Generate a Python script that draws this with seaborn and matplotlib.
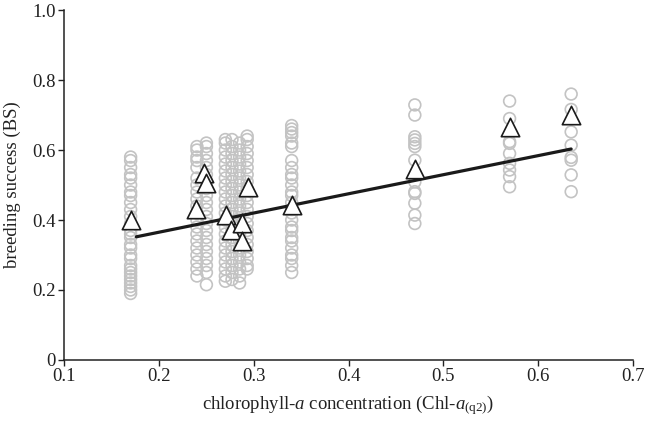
import matplotlib
matplotlib.use("Agg")
import matplotlib.pyplot as plt
import seaborn as sns
import pandas as pd

# ---- data ----
col_x = [0.17, 0.24, 0.25, 0.27, 0.277, 0.285, 0.293, 0.34, 0.47, 0.57, 0.635]
col_values = [
    [0.58, 0.57, 0.55, 0.53, 0.52, 0.50, 0.48, 0.47, 0.45, 0.43, 0.41, 0.39, 0.37, 0.36,
     0.35, 0.33, 0.32, 0.30, 0.29, 0.27, 0.26, 0.25, 0.24, 0.23, 0.22, 0.21, 0.20, 0.19],
    [0.61, 0.60, 0.58, 0.57, 0.55, 0.52, 0.50, 0.48, 0.46, 0.44, 0.42, 0.40, 0.38, 0.36,
     0.34, 0.32, 0.30, 0.28, 0.26, 0.24],
    [0.62, 0.61, 0.59, 0.57, 0.55, 0.53, 0.51, 0.49, 0.47, 0.45, 0.43, 0.41, 0.39, 0.37,
     0.35, 0.33, 0.31, 0.29, 0.27, 0.25, 0.215],
    [0.63, 0.62, 0.60, 0.58, 0.56, 0.54, 0.52, 0.50, 0.48, 0.46, 0.44, 0.42, 0.40, 0.38,
     0.36, 0.34, 0.32, 0.30, 0.28, 0.26, 0.24, 0.225],
    [0.63, 0.61, 0.59, 0.57, 0.55, 0.53, 0.51, 0.49, 0.47, 0.45, 0.43, 0.41, 0.39, 0.37,
     0.35, 0.33, 0.31, 0.29, 0.27, 0.25, 0.23],
    [0.62, 0.60, 0.58, 0.56, 0.54, 0.52, 0.50, 0.48, 0.46, 0.44, 0.42, 0.40, 0.38, 0.36,
     0.34, 0.32, 0.30, 0.28, 0.26, 0.24, 0.22],
    [0.64, 0.63, 0.61, 0.59, 0.57, 0.55, 0.53, 0.51, 0.49, 0.47, 0.45, 0.43, 0.41, 0.39,
     0.37, 0.35, 0.33, 0.31, 0.29, 0.27, 0.26],
    [0.67, 0.66, 0.65, 0.64, 0.62, 0.61, 0.57, 0.55, 0.53, 0.52, 0.50, 0.48, 0.47, 0.45,
     0.43, 0.42, 0.40, 0.38, 0.37, 0.35, 0.34, 0.32, 0.30, 0.29, 0.27, 0.25],
    [0.729, 0.70, 0.638, 0.629, 0.619, 0.61, 0.571, 0.509, 0.481, 0.476, 0.448, 0.414, 0.39],
    [0.74, 0.69, 0.624, 0.619, 0.59, 0.562, 0.543, 0.524, 0.495],
    [0.76, 0.716, 0.652, 0.614, 0.579, 0.571, 0.529, 0.481],
]

tri_x = [0.17, 0.239, 0.247, 0.25, 0.271, 0.276, 0.288, 0.288, 0.294, 0.34, 0.47, 0.57, 0.635]
tri_y = [0.40, 0.431, 0.533, 0.505, 0.414, 0.371, 0.392, 0.340, 0.495, 0.443, 0.545, 0.665, 0.70]

line_x = [0.176, 0.40, 0.635]
line_y = [0.352, 0.475, 0.603]

xticks = [0.1, 0.2, 0.3, 0.4, 0.5, 0.6, 0.7]
xticklabels = ["0.1", "0.2", "0.3", "0.4", "0.5", "0.6", "0.7"]
yticks = [0, 0.2, 0.4, 0.6, 0.8, 1.0]
yticklabels = ["0", "0.2", "0.4", "0.6", "0.8", "1.0"]

# ---- build tables ----
rows = []
for cx, vals in zip(col_x, col_values):
    for v in vals:
        rows.append({"x": cx, "y": v})
df_pts = pd.DataFrame(rows)
df_tri = pd.DataFrame({"x": tri_x, "y": tri_y})
df_line = pd.DataFrame({"x": line_x, "y": line_y})

sns.set_style("ticks")
plt.rcParams["font.family"] = ["Liberation Serif", "DejaVu Serif"]
plt.rcParams["mathtext.fontset"] = "custom"
plt.rcParams["mathtext.rm"] = "Liberation Serif"
plt.rcParams["mathtext.it"] = "Liberation Serif:italic"

fig = plt.figure(figsize=(6.45, 4.21), dpi=100)
ax = fig.add_axes([0.0997, 0.145, 0.8813, 0.831])

sns.scatterplot(data=df_pts, x="x", y="y", ax=ax, marker="o", s=72,
                facecolors="none", edgecolor="#c3c3c3", linewidth=1.2, zorder=2)
sns.lineplot(data=df_line, x="x", y="y", ax=ax, color="#1a1a1a", linewidth=2.3,
             zorder=3, estimator=None, sort=False)
sns.scatterplot(data=df_tri, x="x", y="y", ax=ax, marker="^", s=175,
                color="white", edgecolor="#1a1a1a", linewidth=1.2, zorder=4)

ax.set_xlim(0.1, 0.7)
ax.set_ylim(0, 1.0)
ax.set_xticks(xticks)
ax.set_xticklabels(xticklabels)
ax.set_yticks(yticks)
ax.set_yticklabels(yticklabels)
ax.tick_params(direction="out", length=4, width=1, labelsize=13.5, colors="#222222", pad=2)
for side in ["top", "right"]:
    ax.spines[side].set_visible(False)
for side in ["left", "bottom"]:
    ax.spines[side].set_linewidth(1.1)
    ax.spines[side].set_color("#222222")

ax.set_xlabel(r"chlorophyll-$\mathit{a}$ concentration (Chl-$\mathit{a}_{\mathrm{(q2)}}$)",
              fontsize=13.5, color="#222222", labelpad=6)
ax.set_ylabel("breeding success (BS)", fontsize=13.5, color="#222222", labelpad=8)

fig.savefig("out.png", dpi=100)
